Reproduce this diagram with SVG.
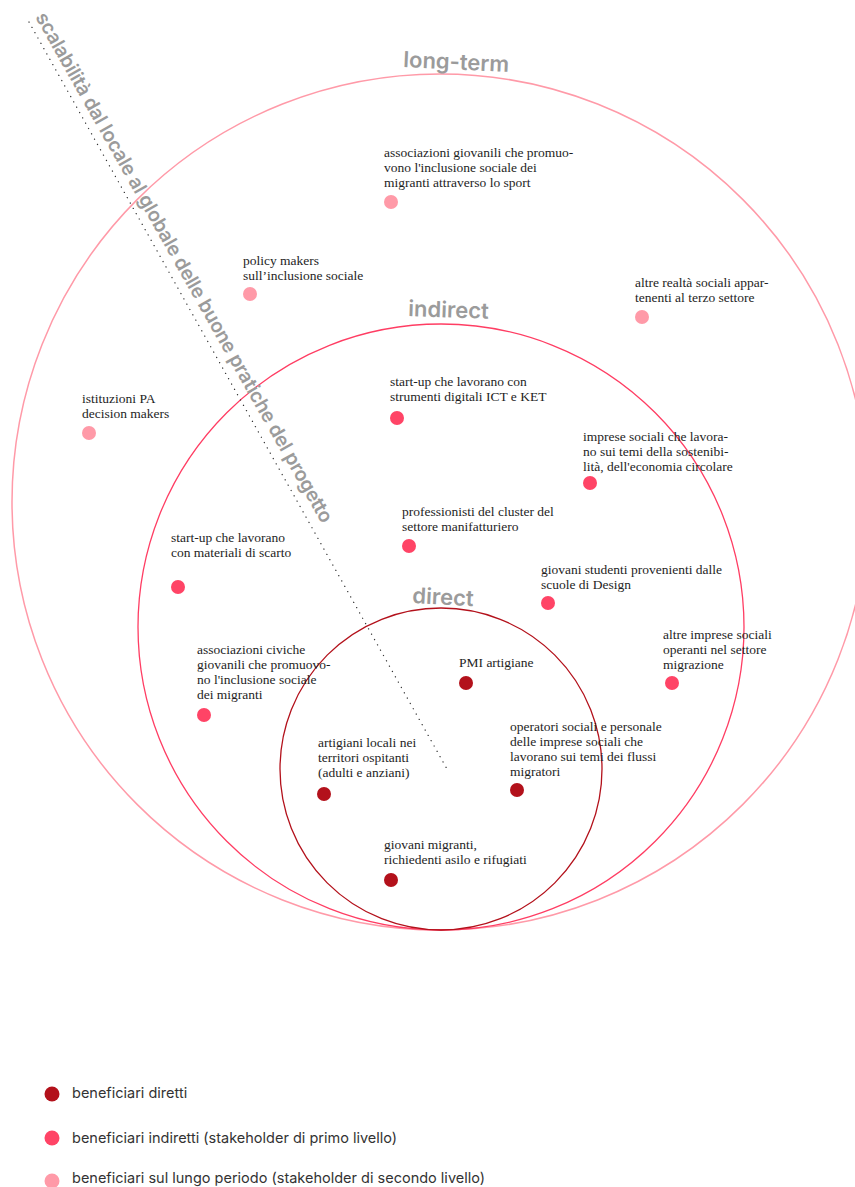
<svg xmlns="http://www.w3.org/2000/svg" width="855" height="1187" viewBox="0 0 855 1187">
  <style>
    .lbl { font-family: "Liberation Serif", "DejaVu Serif", serif; font-size: 13.5px; fill: #1e1e1e; }
    .ring-title { font-family: Inter, "Noto Sans", sans-serif; font-weight: 600; font-size: 22px; fill: #9b9b9b; }
    .axis-title { font-family: Inter, "Noto Sans", sans-serif; font-weight: 600; font-size: 19.5px; fill: #9b9b9b; }
    .legend { font-family: Inter, "Noto Sans", sans-serif; font-size: 14.5px; fill: #333333; }
    .ring { fill: none; }
    .d-direct { fill: #b3111b; }
    .d-indirect { fill: #ff4466; }
    .d-long { fill: #ff9aa8; }
  </style>

  <rect width="855" height="1187" fill="#ffffff"/>

  <!-- concentric stakeholder rings, all tangent at the bottom -->
  <g id="rings">
    <circle id="ring-long-term" class="ring" cx="440" cy="502" r="428" stroke="#ff9aa8" stroke-width="1.5"/>
    <circle id="ring-indirect" class="ring" cx="441" cy="627" r="303" stroke="#ff3d63" stroke-width="1.3"/>
    <circle id="ring-direct" class="ring" cx="441" cy="769" r="161" stroke="#b3111b" stroke-width="1.3"/>
  </g>

  <!-- ring titles -->
  <text class="ring-title" x="403" y="67" transform="rotate(2.7 403 67)">long-term</text>
  <text class="ring-title" x="408" y="316" transform="rotate(2 408 316)">indirect</text>
  <text class="ring-title" x="412" y="603" transform="rotate(3 412 603)">direct</text>

  <!-- scalability axis -->
  <g id="connectors">
    <line x1="29" y1="22" x2="447" y2="769" stroke="#333333" stroke-width="1.3" stroke-linecap="round" stroke-dasharray="0.1 6"/>
  </g>
  <text class="axis-title" transform="translate(35 17) rotate(60.5)" textLength="583" lengthAdjust="spacing">scalabilità dal locale al globale delle buone pratiche del progetto</text>

  <!-- long-term stakeholders -->
  <g id="n-associazioni-sport">
    <text class="lbl" x="384" y="157">associazioni giovanili che promuo-<tspan x="384" dy="15">vono l'inclusione sociale dei</tspan><tspan x="384" dy="15">migranti attraverso lo sport</tspan></text>
    <circle class="d-long" cx="391" cy="202" r="7"/>
  </g>
  <g id="n-policy-makers">
    <text class="lbl" x="243" y="265">policy makers<tspan x="243" dy="15">sull’inclusione sociale</tspan></text>
    <circle class="d-long" cx="250" cy="294" r="7"/>
  </g>
  <g id="n-terzo-settore">
    <text class="lbl" x="635" y="287">altre realtà sociali appar-<tspan x="635" dy="15">tenenti al terzo settore</tspan></text>
    <circle class="d-long" cx="642" cy="317" r="7"/>
  </g>
  <g id="n-istituzioni-pa">
    <text class="lbl" x="82" y="403">istituzioni PA<tspan x="82" dy="15">decision makers</tspan></text>
    <circle class="d-long" cx="89" cy="433" r="7"/>
  </g>

  <!-- indirect stakeholders -->
  <g id="n-startup-ict">
    <text class="lbl" x="390" y="386">start-up che lavorano con<tspan x="390" dy="15">strumenti digitali ICT e KET</tspan></text>
    <circle class="d-indirect" cx="397" cy="418" r="7"/>
  </g>
  <g id="n-imprese-sostenibilita">
    <text class="lbl" x="583" y="441">imprese sociali che lavora-<tspan x="583" dy="15">no sui temi della sostenibi-</tspan><tspan x="583" dy="15">lità, dell'economia circolare</tspan></text>
    <circle class="d-indirect" cx="590" cy="483" r="7"/>
  </g>
  <g id="n-professionisti">
    <text class="lbl" x="402" y="516">professionisti del cluster del<tspan x="402" dy="15">settore manifatturiero</tspan></text>
    <circle class="d-indirect" cx="409" cy="546" r="7"/>
  </g>
  <g id="n-startup-scarto">
    <text class="lbl" x="171" y="542">start-up che lavorano<tspan x="171" dy="15">con materiali di scarto</tspan></text>
    <circle class="d-indirect" cx="178" cy="587" r="7"/>
  </g>
  <g id="n-studenti-design">
    <text class="lbl" x="541" y="574">giovani studenti provenienti dalle<tspan x="541" dy="15">scuole di Design</tspan></text>
    <circle class="d-indirect" cx="548" cy="603" r="7"/>
  </g>
  <g id="n-imprese-migrazione">
    <text class="lbl" x="663" y="639">altre imprese sociali<tspan x="663" dy="15">operanti nel settore</tspan><tspan x="663" dy="15">migrazione</tspan></text>
    <circle class="d-indirect" cx="672" cy="683" r="7"/>
  </g>
  <g id="n-associazioni-civiche">
    <text class="lbl" x="197" y="654">associazioni civiche<tspan x="197" dy="15">giovanili che promuovo-</tspan><tspan x="197" dy="15">no l'inclusione sociale</tspan><tspan x="197" dy="15">dei migranti</tspan></text>
    <circle class="d-indirect" cx="204" cy="715" r="7"/>
  </g>

  <!-- direct beneficiaries -->
  <g id="n-pmi-artigiane">
    <text class="lbl" x="459" y="667">PMI artigiane</text>
    <circle class="d-direct" cx="466" cy="683" r="7"/>
  </g>
  <g id="n-artigiani-locali">
    <text class="lbl" x="318" y="747">artigiani locali nei<tspan x="318" dy="15">territori ospitanti</tspan><tspan x="318" dy="15">(adulti e anziani)</tspan></text>
    <circle class="d-direct" cx="324" cy="794" r="7"/>
  </g>
  <g id="n-operatori-sociali">
    <text class="lbl" x="510" y="731">operatori sociali e personale<tspan x="510" dy="15">delle imprese sociali che</tspan><tspan x="510" dy="15">lavorano sui temi dei flussi</tspan><tspan x="510" dy="15">migratori</tspan></text>
    <circle class="d-direct" cx="517" cy="790" r="7"/>
  </g>
  <g id="n-giovani-migranti">
    <text class="lbl" x="384" y="849">giovani migranti,<tspan x="384" dy="15">richiedenti asilo e rifugiati</tspan></text>
    <circle class="d-direct" cx="391" cy="880" r="7"/>
  </g>

  <!-- legend -->
  <g id="legend">
    <circle class="d-direct" cx="52" cy="1094" r="7.5"/>
    <text class="legend" x="72" y="1098">beneficiari diretti</text>
    <circle class="d-indirect" cx="52" cy="1138" r="7.5"/>
    <text class="legend" x="72" y="1143">beneficiari indiretti (stakeholder di primo livello)</text>
    <circle class="d-long" cx="52" cy="1181" r="7.5"/>
    <text class="legend" x="72" y="1183">beneficiari sul lungo periodo (stakeholder di secondo livello)</text>
  </g>
</svg>
